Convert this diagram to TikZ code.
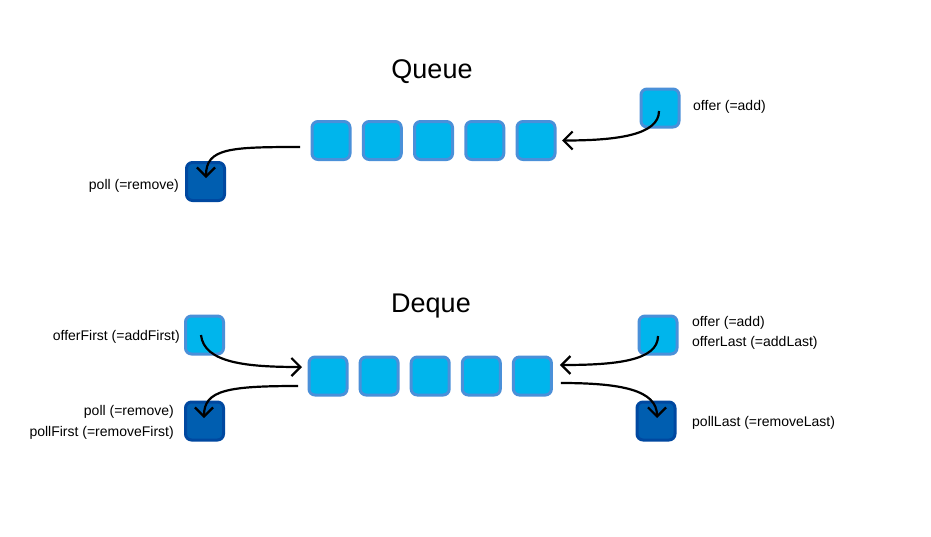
\documentclass[tikz,border=0pt]{standalone}
\usepackage{fontspec}
\setmainfont{Liberation Sans}
\usetikzlibrary{arrows.meta,calc}
\definecolor{lfill}{RGB}{0,181,236}
\definecolor{lborder}{RGB}{74,144,217}
\definecolor{dfill}{RGB}{0,94,176}
\definecolor{dborder}{RGB}{0,72,160}
\begin{document}
\begin{tikzpicture}[x=1pt,y=-1pt,
  sq/.style={rounded corners=6pt, minimum size=38pt, line width=3pt, inner sep=0pt},
  lsq/.style={sq, fill=lfill, draw=lborder},
  dsq/.style={sq, fill=dfill, draw=dborder},
  lbl/.style={font=\fontsize{14pt}{21pt}\selectfont, inner sep=0pt},
  ttl/.style={font=\fontsize{27pt}{32pt}\selectfont, inner sep=0pt},
  arr/.style={line width=2.2pt, -{Straight Barb[length=9pt,width=18pt,line width=2.2pt]}}]
\useasboundingbox (0,0) rectangle (931,536);
\fill[white] (0,0) rectangle (931,536);

% ---------- Queue ----------
\node[ttl] (qtitle) at (432,72) {Queue};
\foreach \i in {1,...,5}
  \node[lsq] (q\i) at ({331+51.25*(\i-1)},140.5) {};
\node[lsq] (qoffer) at (660,108) {};
\node[dsq] (qpoll) at (205.5,181.5) {};
\node[lbl, anchor=west] (qofferlbl) at (693,106.5) {offer (=add)};
\node[lbl, anchor=east] (qpolllbl) at (179,186) {poll (=remove)};

\draw[arr] ($(qoffer.center)+(-1,3)$) .. controls +(0,24) and +(55,0) .. ($(q5.east)+(5.5,0)$);
\draw[arr] ($(q1.west)+(-10.5,6.5)$) .. controls +(-70,0) and +(0,-30) .. ($(qpoll.center)+(0.5,-3.5)$);

% ---------- Deque ----------
\node[ttl] (dtitle) at (431,306) {Deque};
\foreach \i in {1,...,5}
  \node[lsq] (d\i) at ({328+51.1*(\i-1)},376) {};
\node[lsq] (doffirst) at (204.5,335) {};
\node[dsq] (dpoll) at (204.5,421) {};
\node[lsq] (doffer) at (658,335) {};
\node[dsq] (dplast) at (656,421) {};

\node[lbl, anchor=east] (dofflbl) at (180,337) {offerFirst (=addFirst)};
\node[lbl, anchor=east, align=right] (dpolllbl) at (174,422.5) {poll (=remove)\\pollFirst (=removeFirst)};
\node[lbl, anchor=west, align=left, font=\fontsize{14pt}{20pt}\selectfont] (dofferlbl) at (692,332.5) {offer (=add)\\offerLast (=addLast)};
\node[lbl, anchor=west] (dplastlbl) at (692,423) {pollLast (=removeLast)};

\draw[arr] ($(doffirst.center)+(-3.5,0)$) .. controls +(3,28) and +(-55,0) .. ($(d1.west)+(-5.5,-9)$);
\draw[arr] ($(d1.west)+(-9.5,10)$) .. controls +(-70,0) and +(0,-28) .. ($(dpoll.center)+(-0.5,-3)$);
\draw[arr] ($(doffer.center)+(0,1)$) .. controls +(0,25) and +(55,0) .. ($(d5.east)+(7,-11)$);
\draw[arr] ($(d5.east)+(8,7)$) .. controls +(60,0) and +(0,-28) .. ($(dplast.center)+(1,-3)$);
\end{tikzpicture}
\end{document}
